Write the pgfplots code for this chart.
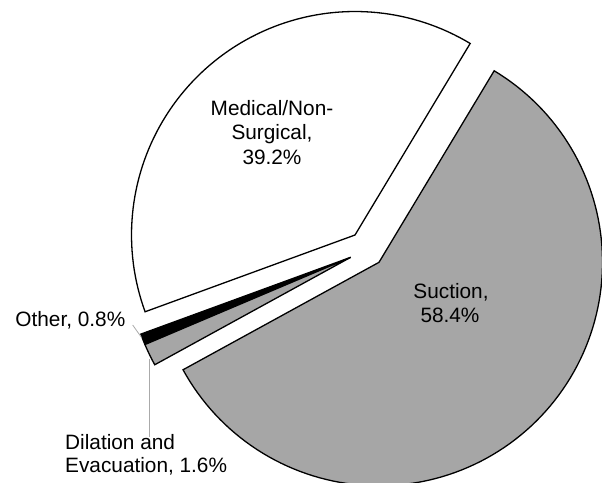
\documentclass[border=0pt]{standalone}
\usepackage{pgfplots}
\pgfplotsset{compat=1.18}
\usepackage{fontspec}
\setmainfont{Liberation Sans}
\begin{document}
\begin{tikzpicture}
% shares (percent), counter-clockwise from the first slice
\def\pMed{39.2}
\def\pOth{0.8}
\def\pDE{1.6}
\def\pSuc{58.4}
\def\R{223.5}
\pgfmathsetmacro\aA{58.98}
\pgfmathsetmacro\aB{\aA+3.6*\pMed}
\pgfmathsetmacro\aC{\aB+3.6*\pOth}
\pgfmathsetmacro\aD{\aC+3.6*\pDE}
\pgfmathsetmacro\aE{\aD+3.6*\pSuc}
\definecolor{slicegray}{RGB}{166,166,166}
\definecolor{leader}{RGB}{170,170,170}
\tikzset{lbl/.style={font=\fontsize{20.8bp}{24bp}\selectfont, inner sep=0pt}}
\begin{axis}[
  scale only axis, width=602bp, height=483bp,
  xmin=0, xmax=602, ymin=0, ymax=483, y dir=reverse,
  hide axis, clip=true,
  every axis plot/.append style={no markers, line width=1.3bp, line join=miter},
]
% Medical/Non-Surgical (exploded)
\addplot[draw=black, fill=white, domain=\aA:\aB, samples=90, variable=\t]
  ({355+\R*cos(\t)},{235-\R*sin(\t)}) -- (axis cs:355,235) -- cycle;
% Suction (exploded)
\addplot[draw=black, fill=slicegray, domain=\aD:\aE, samples=120, variable=\t]
  ({379+\R*cos(\t)},{262.3-\R*sin(\t)}) -- (axis cs:379,262.3) -- cycle;
% Other
\addplot[draw=black, fill=black, domain=\aB:\aC, samples=4, variable=\t]
  ({350.7+\R*cos(\t)},{257.3-\R*sin(\t)}) -- (axis cs:350.7,257.3) -- cycle;
% Dilation and Evacuation
\addplot[draw=black, fill=slicegray, domain=\aC:\aD, samples=6, variable=\t]
  ({350.7+\R*cos(\t)},{257.3-\R*sin(\t)}) -- (axis cs:350.7,257.3) -- cycle;
% leader lines
\addplot[draw=leader, line width=0.8bp] coordinates {(132.7,325) (141.5,337.5)};
\addplot[draw=leader, line width=0.8bp] coordinates {(149.3,359) (149.3,437)};
% labels
\node[lbl, anchor=base] at (axis cs:272,115) {Medical/Non-};
\node[lbl, anchor=base] at (axis cs:272,139.5) {Surgical,};
\node[lbl, anchor=base] at (axis cs:272,164) {39.2\%};
\node[lbl, anchor=base] at (axis cs:451,298) {Suction,};
\node[lbl, anchor=base] at (axis cs:450,322) {58.4\%};
\node[lbl, anchor=base east] at (axis cs:125.5,326) {Other, 0.8\%};
\node[lbl, anchor=base west] at (axis cs:65,449) {Dilation and};
\node[lbl, anchor=base west] at (axis cs:65,472) {Evacuation, 1.6\%};
\end{axis}
\pgfresetboundingbox
\path (0,0) rectangle (602bp,483bp);
\end{tikzpicture}
\end{document}
